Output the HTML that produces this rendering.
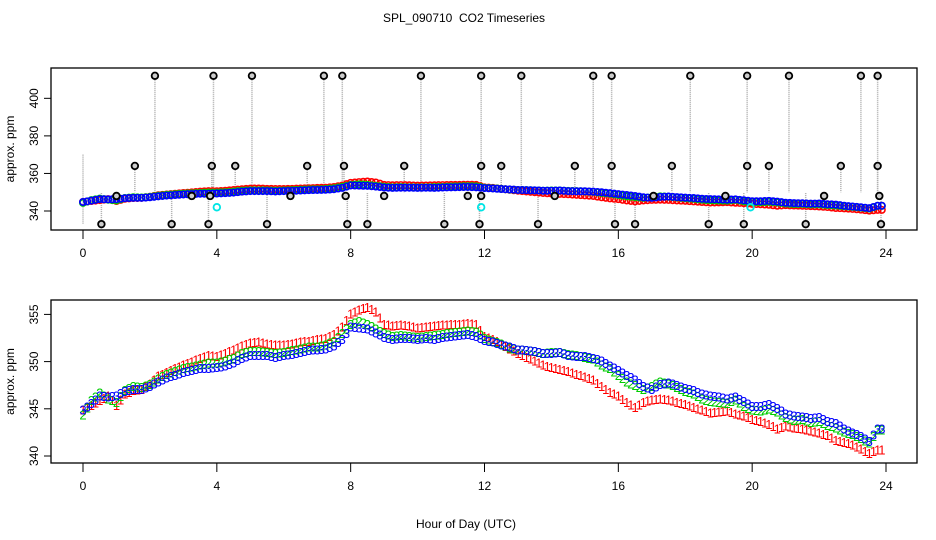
<!DOCTYPE html>
<html><head><meta charset="utf-8"><style>
body{margin:0;background:#fff;}
svg{display:block;font-family:"Liberation Sans",sans-serif;}
</style></head><body>
<svg id="c" width="936" height="540">
<rect width="936" height="540" fill="#fff"/>
<text x="464" y="22" font-size="12" text-anchor="middle" style="white-space:pre">SPL_090710  CO2 Timeseries</text>
<text x="466" y="528" font-size="12" text-anchor="middle">Hour of Day (UTC)</text>
<g id="top"></g>
<g id="bot"></g>
</svg>
<script>
const hours=[0,4,8,12,16,20,24];
const topTicks=[340,360,380,400];
const botTicks=[340,345,350,355];
const s1=[344.8,345.3,345.8,346.3,345.3,346.5,346.9,347.0,347.6,348.4,348.8,349.2,349.6,349.9,350.3,350.6,350.5,350.8,351.2,351.6,351.9,352.0,351.8,351.7,351.7,351.8,352.0,352.1,352.3,352.4,352.8,353.6,355.0,355.4,355.7,355.2,353.9,353.7,353.8,353.7,353.5,353.6,353.7,353.8,353.9,353.9,354.0,353.9,352.6,352.3,351.8,351.3,350.8,350.4,350.0,349.6,349.3,349.1,348.9,348.6,348.3,348.0,347.3,346.7,346.3,345.6,345.1,345.6,345.9,346.0,345.9,345.6,345.4,345.1,344.8,344.5,344.6,344.7,344.4,344.2,343.8,343.6,343.3,342.8,343.1,342.9,342.8,342.6,342.4,342.1,341.6,341.4,341.1,340.7,340.2,340.6];
const s2=[344.3,345.8,346.6,346.0,345.6,346.9,347.3,347.2,347.5,348.1,348.6,348.9,349.2,349.4,349.6,349.8,349.8,350.0,350.3,350.8,351.0,351.0,350.9,350.8,350.9,351.1,351.3,351.5,351.5,351.7,352.1,352.9,353.9,354.2,353.9,353.4,352.9,352.6,352.7,352.6,352.5,352.6,352.7,352.8,353.0,353.1,353.2,353.1,352.4,352.1,351.8,351.4,351.2,351.1,351.0,350.8,350.9,350.9,350.7,350.6,350.4,350.2,349.6,349.2,348.5,347.8,347.4,347.0,347.3,347.8,347.6,347.2,346.8,346.5,346.0,345.7,345.6,345.5,345.9,345.2,344.8,344.7,344.9,344.6,344.0,343.7,343.8,343.5,343.6,343.2,342.9,342.5,342.2,341.8,341.3,342.7];
const s3=[344.8,345.5,346.3,346.2,346.3,346.8,347.0,347.0,347.3,347.8,348.2,348.5,348.8,349.0,349.2,349.2,349.3,349.5,349.8,350.3,350.6,350.6,350.6,350.4,350.6,350.7,350.9,351.1,351.2,351.3,351.6,352.3,353.6,353.5,353.4,353.0,352.5,352.3,352.4,352.4,352.3,352.4,352.3,352.5,352.6,352.7,352.8,352.6,352.2,352.0,351.7,351.5,351.2,351.1,351.0,350.8,350.8,350.9,350.6,350.5,350.5,350.3,350.0,349.5,349.0,348.5,348.0,347.3,347.0,347.5,347.7,347.4,347.1,346.9,346.5,346.3,346.2,346.0,346.2,345.7,345.2,345.2,345.4,345.0,344.4,344.2,344.1,343.9,344.0,343.6,343.4,342.8,342.4,342.0,341.5,342.8];
const outT=[0.55,1.0,1.55,2.15,2.65,3.25,3.75,3.8,3.85,3.9,4.55,5.05,5.5,6.2,6.7,7.2,7.75,7.8,7.85,7.9,8.5,9.0,9.6,10.1,10.8,11.5,11.85,11.9,11.9,11.9,12.5,13.1,13.6,14.1,14.7,15.25,15.8,15.8,15.9,16.5,17.05,17.6,18.15,18.7,19.2,19.75,19.85,19.85,20.5,21.1,21.6,22.15,22.65,23.25,23.75,23.75,23.8,23.85];
const outV=[333,348,364,412,333,348,333,348,364,412,364,412,333,348,364,412,412,364,348,333,333,348,364,412,333,348,333,348,364,412,364,412,333,348,364,412,412,364,333,333,348,364,412,333,348,333,364,412,364,412,333,348,364,412,412,364,348,333];
const cyanT=[4.0,11.9,19.95];
const cyanV=[342,342,342];
const NS='http://www.w3.org/2000/svg';
function mk(tag,attrs,parent,txt){const e=document.createElementNS(NS,tag);for(const k in attrs)e.setAttribute(k,attrs[k]);if(txt!==undefined)e.textContent=txt;parent.appendChild(e);return e;}
const X=t=>83+t*(886-83)/24;
const YT=v=>211-(v-340)*1.878;
const YB=v=>456-(v-340)*9.44;
function frame(g,top,bot,ticks,Y,name){
  const b=mk('rect',{x:51,y:top,width:866,height:bot-top,fill:'none',stroke:'#000','stroke-width':1.3},g);
  
  
  hours.forEach(h=>{
    const l=mk('line',{x1:X(h),x2:X(h),y1:bot,y2:bot+9,stroke:'#000'},g);
    
    
    const t=mk('text',{x:X(h),y:bot+27,'font-size':12,'text-anchor':'middle'},g,String(h));
    
    
  });
  ticks.forEach(v=>{
    const l=mk('line',{x1:44,x2:51,y1:Y(v),y2:Y(v),stroke:'#000'},g);
    
    
    const t=mk('text',{x:0,y:0,'font-size':12,'text-anchor':'middle',transform:`translate(38,${Y(v)}) rotate(-90)`},g,String(v));
    
    
  });
  const a=mk('text',{x:0,y:0,'font-size':12,'text-anchor':'middle',transform:`translate(14,${(top+bot)/2}) rotate(-90)`},g,'approx. ppm');
  
  
}
const gt=document.getElementById('top'),gb=document.getElementById('bot');
frame(gt,68,230,topTicks,YT,'top');
frame(gb,300,463,botTicks,YB,'bottom');
const l0=mk('line',{x1:X(0),x2:X(0),y1:YT(370),y2:YT(333),stroke:'#aaa','stroke-width':1.5,'stroke-dasharray':'1,1'},gt);


outT.forEach((t,i)=>{
  const l=mk('line',{x1:X(t),x2:X(t),y1:YT(outV[i]),y2:YT(350),stroke:'#aaa','stroke-width':1.5,'stroke-dasharray':'1,1'},gt);
  
  
});
const cols=['#ff0000','#00cc00','#0000ff'];
[s1,s2,s3].forEach((s,k)=>{
  s.forEach((v,i)=>{
    const c=mk('circle',{cx:X(i*0.25),cy:YT(v),r:3.2,fill:'none',stroke:cols[k],'stroke-width':1.6},gt);
    
    
    const nv=s[i+1]!==undefined?s[i+1]:v;
    const c2=mk('circle',{cx:X(i*0.25+0.125),cy:YT((v+nv)/2),r:3.2,fill:'none',stroke:cols[k],'stroke-width':1.6},gt);
    
    
  });
});
outT.forEach((t,i)=>{
  const c=mk('circle',{cx:X(t),cy:YT(outV[i]),r:3.3,fill:'#ccc',stroke:'#000','stroke-width':1.8},gt);
  
  
});
cyanT.forEach((t,i)=>{
  const c=mk('circle',{cx:X(t),cy:YT(cyanV[i]),r:3.3,fill:'none',stroke:'#00e5e5','stroke-width':1.8},gt);
  
  
});
[s1,s2,s3].forEach((s,k)=>{
  s.forEach((v,i)=>{
    const tx=mk('text',{x:X(i*0.25),y:YB(v)+4,'font-size':13,'text-anchor':'middle',fill:cols[k]},gb,String(k+1));
    
    
    const nv=s[i+1]!==undefined?s[i+1]:v;
    const tx2=mk('text',{x:X(i*0.25+0.125),y:YB((v+nv)/2)+4,'font-size':13,'text-anchor':'middle',fill:cols[k]},gb,String(k+1));
    
    
  });
});
</script>
</body></html>
